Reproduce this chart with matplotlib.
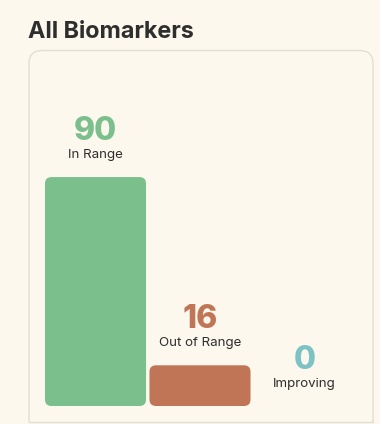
import matplotlib.pyplot as plt
from matplotlib.patches import FancyBboxPatch, Rectangle

categories = ['In Range', 'Out of Range', 'Improving']
counts = [90, 16, 0]
colors = ['#7bbf8c', '#c07656', '#7dc2c4']

bg = '#fcf8ee'
text_dark = '#2e2e2e'

plt.rcParams['font.family'] = ['Inter', 'DejaVu Sans']

fig = plt.figure(figsize=(3.8, 4.24), dpi=100)
fig.patch.set_facecolor(bg)

# background axes in pixel units for title and card
bga = fig.add_axes([0, 0, 1, 1])
bga.set_xlim(0, 380)
bga.set_ylim(424, 0)
bga.axis('off')
card = FancyBboxPatch((29, 50.5), 344, 420,
                      boxstyle='round,pad=0,rounding_size=13',
                      facecolor=bg, edgecolor='#e2ded3', linewidth=1.0)
bga.add_patch(card)
clip = Rectangle((0, 0), 380, 422, transform=bga.transData)
card.set_clip_path(clip)
bga.plot([29, 373], [422, 422], color='#e2ded3', linewidth=1.0)
bga.text(28, 32.5, 'All Biomarkers', fontsize=16.8, fontweight='bold',
         color=text_dark, va='center', ha='left')

# bar axes
ax = fig.add_axes([43.25 / 380, 18 / 424, 313.5 / 380, 279.8 / 424])
ax.set_xlim(-0.5, 2.5)
ax.set_ylim(0, 110)
ax.axis('off')

width = 0.967
px_x = 104.5
px_y = 279.8 / 110
r = 6.5
for i, (cat, val, col) in enumerate(zip(categories, counts, colors)):
    if val > 0:
        p = FancyBboxPatch((i - width / 2, 0), width, val,
                           boxstyle=f'round,pad=0,rounding_size={r / px_x}',
                           mutation_aspect=px_x / px_y,
                           facecolor=col, edgecolor='none')
        ax.add_patch(p)
    ax.annotate(str(val), (i, val), xytext=(0, 33), textcoords='offset points',
                ha='center', va='center', fontsize=23, fontweight='heavy', color=col)
    ax.annotate(cat, (i, val), xytext=(0, 15.8), textcoords='offset points',
                ha='center', va='center', fontsize=9.6, color=text_dark)

fig.savefig('out.png', dpi=100, facecolor=bg)
